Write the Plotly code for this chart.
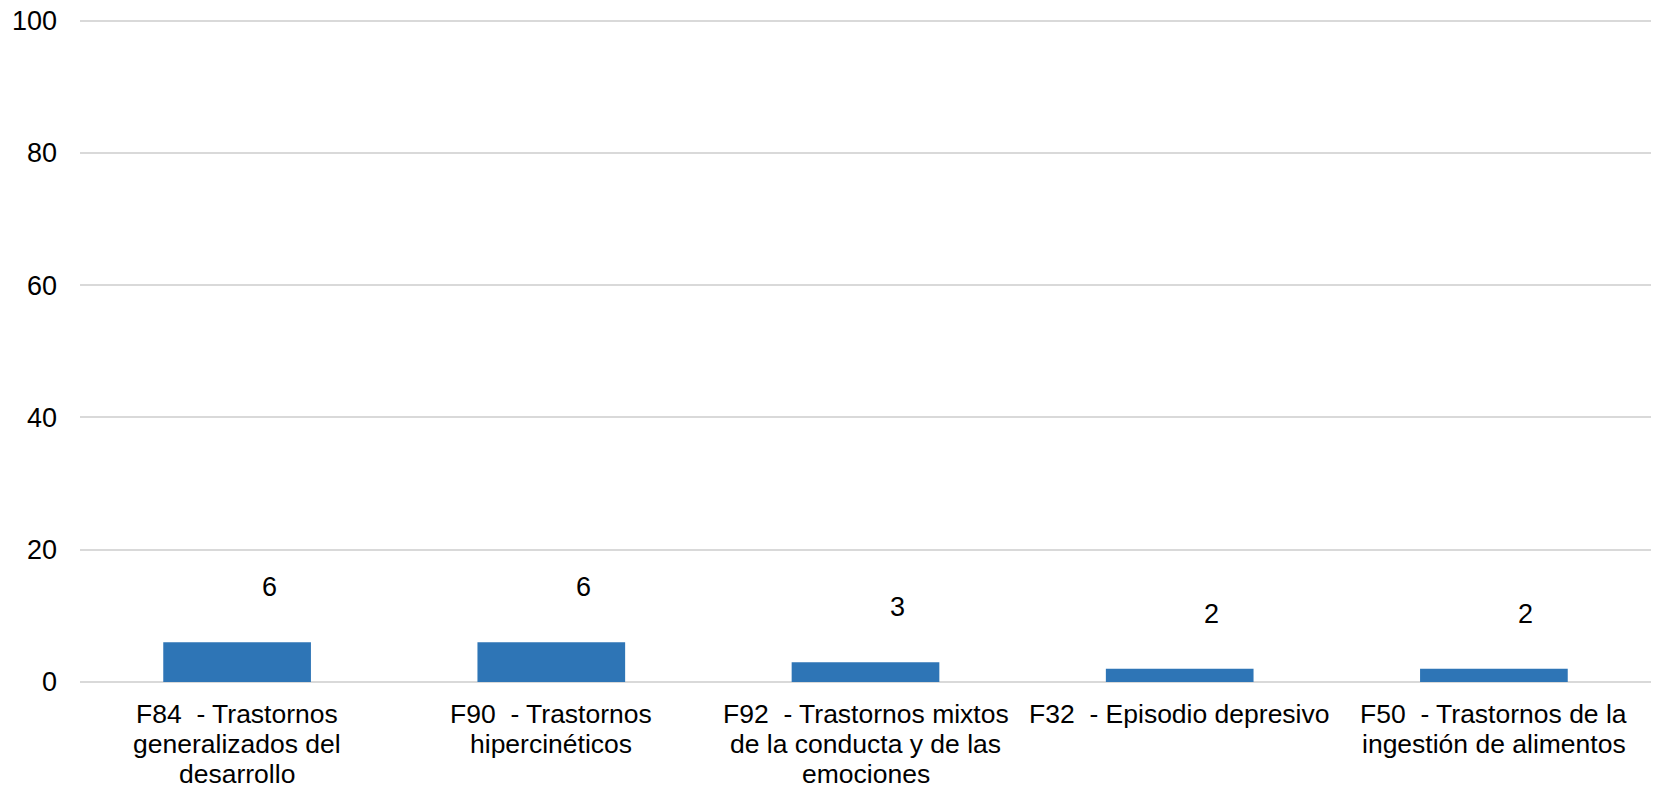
import plotly.graph_objects as go

NB = "\u00a0"
categories = [
    "F84 - Trastornos generalizados del desarrollo",
    "F90 - Trastornos hipercinéticos",
    "F92 - Trastornos mixtos de la conducta y de las emociones",
    "F32 - Episodio depresivo",
    "F50 - Trastornos de la ingestión de alimentos",
]
category_lines = [
    [f"F84{NB}{NB}- Trastornos", "generalizados del", "desarrollo"],
    [f"F90{NB}{NB}- Trastornos", "hipercinéticos"],
    [f"F92{NB}{NB}- Trastornos mixtos", "de la conducta y de las", "emociones"],
    [f"F32{NB}{NB}- Episodio depresivo"],
    [f"F50{NB}{NB}- Trastornos de la", "ingestión de alimentos"],
]
values = [6, 6, 3, 2, 2]
y_ticks = [0, 20, 40, 60, 80, 100]

FONT = "Liberation Sans, Arial, sans-serif"
FS = 27
FS_CAT = 26.5

fig = go.Figure()
fig.add_trace(go.Bar(
    x=categories, y=values,
    marker=dict(color="#2E75B6", line=dict(width=0)),
    width=0.47,
    textposition="none",
    hoverinfo="skip",
))

for c, v in zip(categories, values):
    fig.add_annotation(x=c, y=v, text=str(v), showarrow=False,
                       xshift=32, yshift=55,
                       font=dict(size=FS, color="#000000", family=FONT))

for c, lines in zip(categories, category_lines):
    for i, line in enumerate(lines):
        fig.add_annotation(x=c, y=0, text=line, showarrow=False,
                           yanchor="middle", yshift=-(31.5 + i * 30.2),
                           font=dict(size=FS_CAT, color="#000000", family=FONT))

fig.update_layout(
    width=1658, height=789,
    margin=dict(l=80, r=7, t=19, b=107),
    paper_bgcolor="white", plot_bgcolor="white",
    showlegend=False,
    font=dict(family=FONT, size=FS, color="#000000"),
)
fig.update_xaxes(
    showgrid=False, showline=False, zeroline=False, ticks="",
    showticklabels=False, automargin=False,
)
fig.update_yaxes(
    range=[0, 100.25], tickvals=y_ticks, ticktext=[str(t) for t in y_ticks],
    showgrid=True, gridcolor="#D9D9D9", gridwidth=1.5,
    zeroline=True, zerolinecolor="#D9D9D9", zerolinewidth=1.5,
    showline=False, ticks="", ticklabelstandoff=22,
    tickfont=dict(size=FS, color="#000000", family=FONT),
    automargin=False,
)

fig.write_html("out.html",
               config={"displayModeBar": False},
               post_script="document.body.style.margin='0';document.body.style.overflow='hidden';")
